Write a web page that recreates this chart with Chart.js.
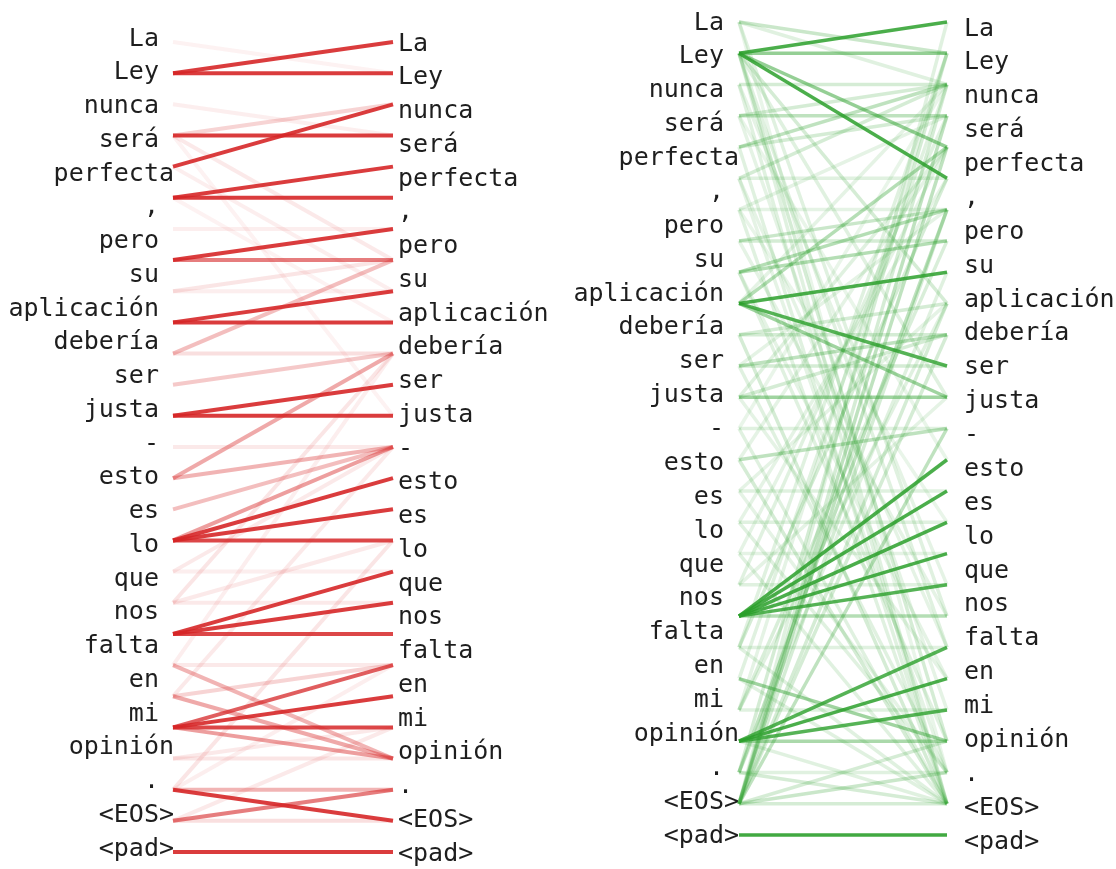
<!DOCTYPE html>
<html><head><meta charset="utf-8">
<script src="https://cdn.jsdelivr.net/npm/chart.js@4.4.1/dist/chart.umd.min.js"></script>
<style>
html,body{margin:0;padding:0;background:#fff;}
#wrap{position:relative;width:1116px;height:869px;overflow:hidden;}
canvas{position:absolute;top:0;}
#cl{left:0;}
#cr{left:560px;}
</style></head><body>
<div id="wrap"><canvas id="cl" width="560" height="869"></canvas><canvas id="cr" width="556" height="869"></canvas></div>
<script>
// Tokens (same sentence on both sides of each panel)
const tokens = ['La','Ley','nunca','será','perfecta',',','pero','su','aplicación','debería','ser','justa','-','esto','es','lo','que','nos','falta','en','mi','opinión','.','<EOS>','<pad>'];
// labels drawn flush (no trailing gap) on the left columns
const flushTokens = ['perfecta','opinión','<EOS>','<pad>'];
// number of line rows on each side of a panel
const rowCount = 27;

// Left (red) panel links: [source row, target row, weight]
const redLinks = [
  [0,1,.06],[2,3,.08],[6,6,.08],[8,7,.12],[8,8,.08],[3,7,.1],[4,8,.08],[3,12,.06],[5,9,.06],
  [17,17,.08],[18,18,.1],[18,16,.1],[17,13,.1],[18,10,.12],[20,10,.08],[21,13,.1],[24,20,.08],
  [24,16,.12],[25,22,.1],[23,23,.12],[23,22,.1],[20,20,.1],[21,20,.2],[13,13,.1],[25,25,.15],
  [3,2,.2],[10,10,.15],[10,7,.3],[11,10,.25],[14,10,.4],[14,13,.35],[15,13,.3],
  [20,23,.35],[21,23,.4],[24,24,.35],[25,24,.6],[22,23,.45],[16,13,.45],[7,7,.6],
  [1,0,.9],[1,1,.9],[3,3,.9],[4,2,.9],[5,4,.9],[5,5,.9],[7,6,.9],[9,8,.9],[9,9,.9],
  [12,11,.9],[12,12,.9],[16,14,.9],[16,15,.9],[16,16,.85],[19,17,.9],[19,18,.9],[19,19,.85],
  [22,20,.75],[22,21,.9],[22,22,.85],[24,25,.9],[26,26,.9]
];

// Right (green) panel links: [source row, target row, weight]
const greenLinks = [
  [0,1,.25],[0,2,.15],[2,2,.2],[3,2,.2],[4,3,.2],[5,2,.2],[5,5,.15],[6,6,.12],[7,6,.25],[7,7,.2],
  [10,10,.2],[10,9,.2],[11,11,.2],[12,10,.2],[13,13,.15],[15,15,.15],[16,16,.15],[17,17,.12],
  [18,18,.15],[20,20,.15],[22,22,.15],[24,24,.15],[25,25,.2],[25,24,.25],[25,23,.2],
  [1,9,.2],[1,12,.15],[1,23,.2],[1,25,.15],[1,20,.15],[0,19,.15],[0,24,.1],[2,25,.15],
  [3,22,.12],[4,25,.15],[5,24,.12],[6,25,.15],[7,19,.12],[8,23,.15],[10,25,.2],[11,24,.15],
  [12,21,.12],[13,25,.15],[14,25,.2],[15,9,.12],[16,24,.15],[17,25,.15],[18,3,.15],[20,5,.2],
  [20,1,.15],[21,2,.15],[22,7,.18],[22,9,.15],[24,1,.2],[24,8,.15],[25,0,.15],[25,6,.2],
  [25,9,.2],[25,10,.2],[25,2,.2],[6,3,.12],[9,2,.12],[11,6,.12],[14,4,.12],[16,5,.12],
  [13,2,.1],[2,18,.12],[3,14,.1],[5,20,.12],[6,16,.1],[8,21,.12],[12,4,.15],[15,24,.12],
  [18,12,.12],[21,25,.15],[22,1,.12],[23,25,.15],[24,25,.2],[17,4,.12],[20,25,.15],
  [1,1,.5],[1,4,.5],[9,12,.45],[12,12,.45],[21,23,.45],[23,23,.4],[19,19,.35],[3,3,.3],
  [4,2,.3],[8,6,.35],[8,7,.35],[9,4,.35],[25,4,.3],[25,3,.3],[25,13,.3],[24,6,.3],[14,13,.3],[11,10,.3],
  [1,0,.85],[1,5,.85],[9,8,.85],[9,11,.8],[19,14,.85],[19,15,.85],[19,16,.85],[19,17,.85],
  [19,18,.8],[23,20,.8],[23,21,.85],[23,22,.8],[26,26,.9]
];

function makePanel(id, links, rgb, lw, cfg) {
  const font = {family: "'DejaVu Sans Mono', monospace", size: 25};
  const datasets = links.map(([s, t, w]) => ({
    data: [{x: 0, y: s}, {x: 1, y: t}],
    borderColor: `rgba(${rgb},${w})`,
    borderWidth: lw,
    pointRadius: 0,
    fill: false,
    tension: 0,
    clip: false,
    xAxisID: 'x',
    yAxisID: 'y'
  }));
  const fitL = s => { s.width = cfg.left; s.paddingTop = 0; s.paddingBottom = 0; };
  const fitR = s => { s.width = cfg.w - cfg.right; s.paddingTop = 0; s.paddingBottom = 0; };
  return new Chart(document.getElementById(id), {
    type: 'line',
    data: {datasets},
    options: {
      responsive: false,
      animation: false,
      events: [],
      layout: {padding: {top: cfg.top, bottom: cfg.h - cfg.bottom, left: 0, right: 0}},
      plugins: {legend: {display: false}, tooltip: {enabled: false}},
      scales: {
        x: {type: 'linear', min: 0, max: 1, display: false},
        y: {type: 'linear', min: 0, max: rowCount - 1, reverse: true, display: false},
        yL: {
          type: 'category', labels: tokens, position: 'left', offset: false,
          grid: {display: false, drawTicks: false}, border: {display: false},
          ticks: {font, color: '#1e1e1e', padding: cfg.padL, labelOffset: cfg.offL, autoSkip: false,
            callback: (v, i) => flushTokens.includes(tokens[i]) ? tokens[i] : tokens[i] + ' '},
          afterFit: fitL
        },
        yR: {
          type: 'category', labels: tokens, position: 'right', offset: false,
          grid: {display: false, drawTicks: false}, border: {display: false},
          ticks: {font, color: '#1e1e1e', padding: cfg.padR, labelOffset: cfg.offR, autoSkip: false},
          afterFit: fitR
        }
      }
    }
  });
}

makePanel('cl', redLinks, '214,39,40', 4, {w: 560, h: 869, top: 42, bottom: 852, left: 173, right: 393, padL: -1, padR: 5, offL: -3, offR: 2});
makePanel('cr', greenLinks, '44,160,44', 3.5, {w: 556, h: 869, top: 22, bottom: 835, left: 179, right: 387, padL: 0, padR: 17, offL: 1, offR: 7});
</script>
</body></html>
